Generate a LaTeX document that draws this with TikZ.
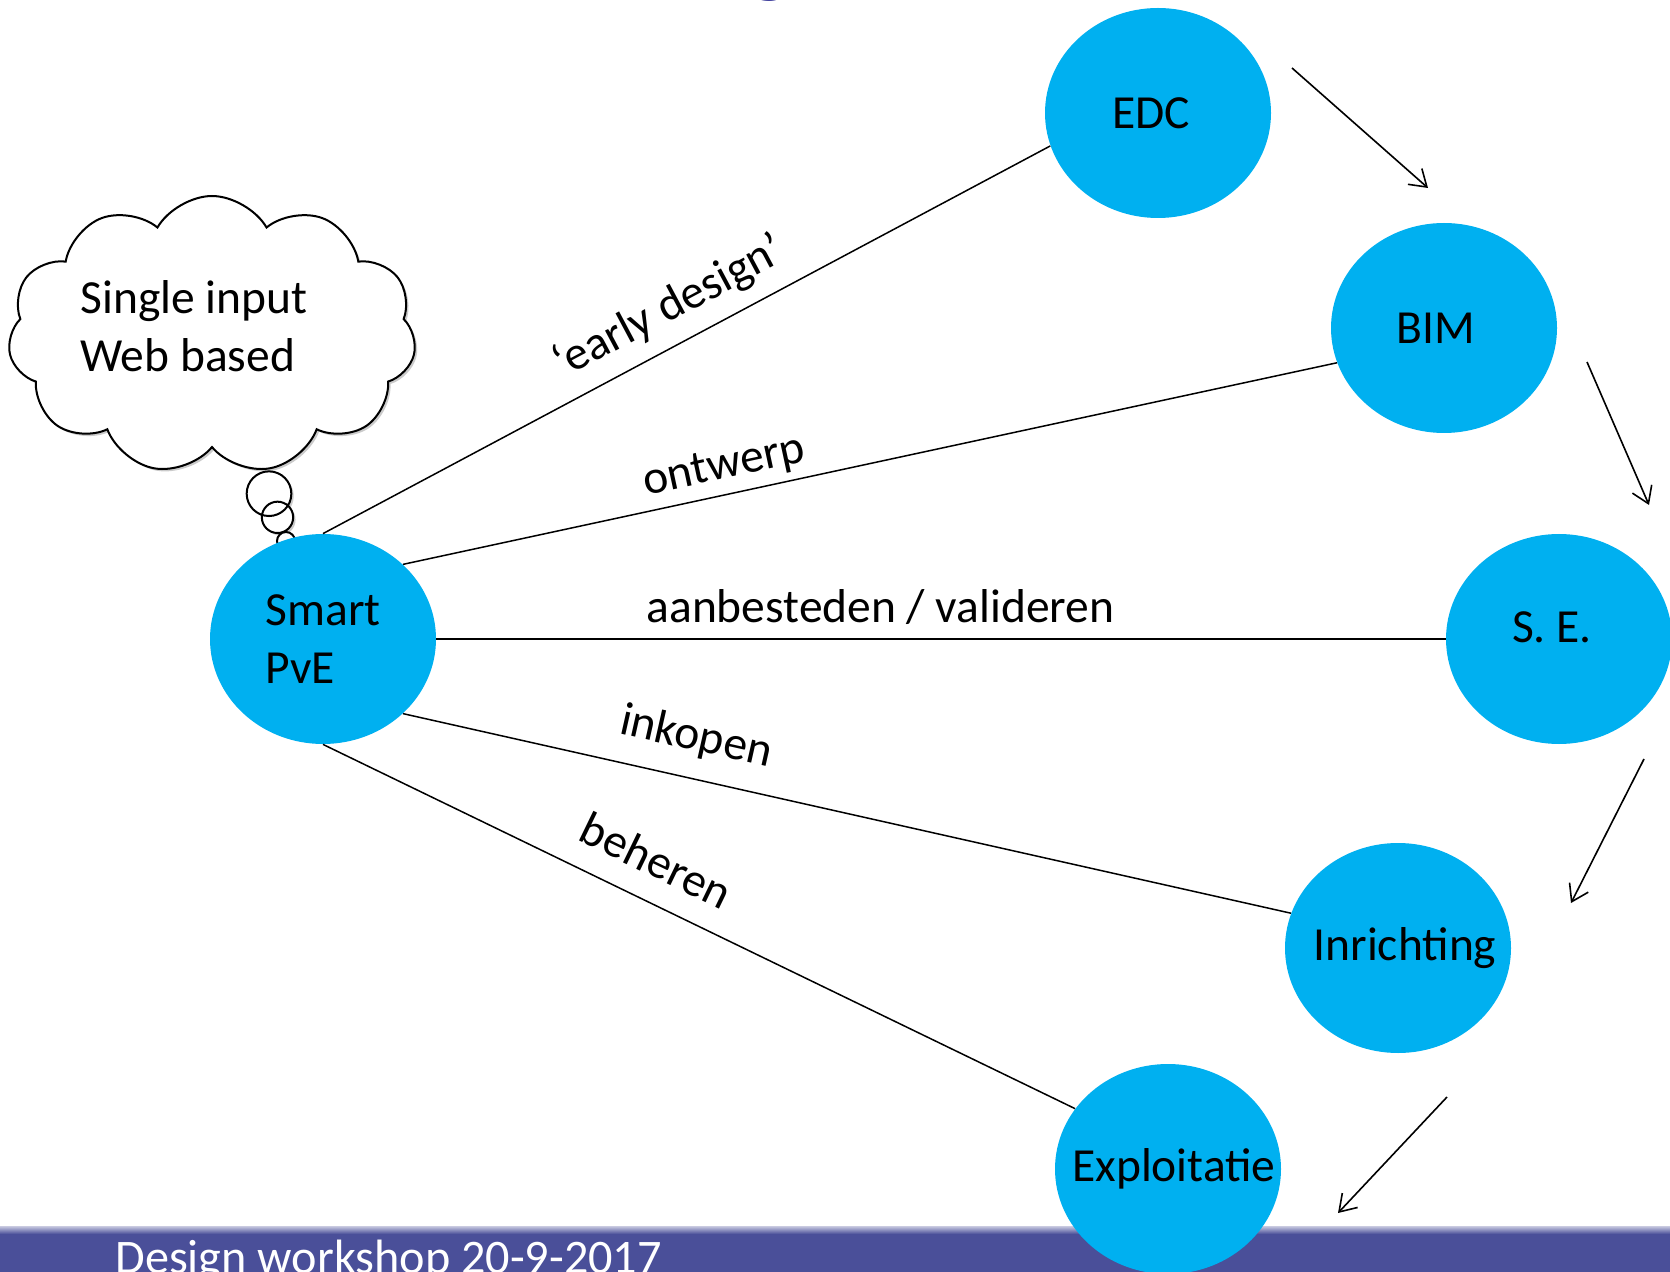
\documentclass[tikz,border=0pt]{standalone}
\usepackage{fontspec}
\setmainfont{Carlito}
\usetikzlibrary{shapes.geometric,shapes.callouts,shadows,arrows.meta}
\definecolor{pveblue}{RGB}{0,176,240}
\definecolor{barblue}{RGB}{74,79,153}
\definecolor{titleblue}{RGB}{57,57,153}
\tikzset{
  phase/.style={ellipse, fill=pveblue, minimum width=113pt, minimum height=105pt, inner sep=0pt},
  link/.style={line width=0.75pt},
  linklabel/.style={sloped, above=#1},
  linklabel/.default=0pt,
  flow/.style={line width=0.8pt, -{Straight Barb[length=8pt,width=10.5pt]}},
}
\begin{document}
\begin{tikzpicture}[x=0.5pt, y=-0.5pt, font=\fontsize{23.75}{29}\selectfont]
  \useasboundingbox (0,0) rectangle (1670,1272);
  \fill[white] (0,0) rectangle (1670,1272);
  % title, almost all of it above the page
  \node[titleblue, font=\fontsize{43.5}{52}\selectfont, anchor=base] (title) at (770,-13) {g};
  % footer bar
  \fill[barblue] (0,1229) rectangle (1670,1272);
  \shade[top color=barblue!30, bottom color=barblue] (0,1226) rectangle (1670,1234);
  \node[white, anchor=base west, inner sep=0pt, font=\fontsize{24.1}{29}\selectfont] (footer) at (115,1273) {Design workshop 20-9-2017};
  % thought cloud
  \coordinate (think) at (286,541);
  \node[cloud callout, draw, fill=white, line width=1pt, cloud puffs=11, cloud puff arc=120,
        cloud ignores aspect, minimum width=204pt, minimum height=139pt,
        callout absolute pointer={(think)}, callout pointer segments=3,
        callout pointer start size=29pt and 29pt, callout pointer end size=9pt and 9pt,
        drop shadow={shadow xshift=1.2pt, shadow yshift=-1.2pt, fill=black!40, opacity=.5}] (cloud) at (212,335) {};
  \node[anchor=west, align=left, inner sep=0pt] (thought) at (80,326) {Single input\\Web based};
  % phases
  \node[phase, label={[name=l-smart, align=left]center:Smart\\PvE}] (smart) at (323,639) {};
  \node[phase, label={[name=l-edc, xshift=-3.5pt]center:EDC}] (edc) at (1158,113) {};
  \node[phase, label={[name=l-bim, xshift=-4pt]center:BIM}] (bim) at (1444,328) {};
  \node[phase, label={[name=l-se, xshift=-3.5pt, yshift=6pt]center:S. E.}] (se) at (1559,639) {};
  \node[phase, label={[name=l-inr, xshift=3.5pt]center:Inrichting}] (inr) at (1398,948) {};
  \node[phase, label={[name=l-expl, xshift=3pt]center:Exploitatie}] (expl) at (1168,1169) {};
  % links from the smart PvE
  \draw[link] (smart.90) -- (edc.197) node[linklabel=4pt, pos=.5] {`early design'};
  \draw[link] (smart.43) -- (bim.198) node[linklabel=.5pt, pos=.35] {ontwerp};
  \draw[link] (smart.0) -- (se.180) node[linklabel=3.5pt, pos=.44] {aanbesteden / valideren};
  \draw[link] (smart.317) -- (inr.162) node[linklabel=6.5pt, pos=.32] {inkopen};
  \draw[link] (smart.270) -- (expl.147) node[linklabel=8.5pt, pos=.42] {beheren};
  % cycle arrows
  \foreach \i/\sx/\sy/\ex/\ey in {1/1292/68/1428/188, 2/1587/362/1649/505,
                                  3/1644/759/1571/903, 4/1447/1097/1338/1213} {
    \coordinate (f-\i-s) at (\sx,\sy);
    \coordinate (f-\i-e) at (\ex,\ey);
    \draw[flow] (f-\i-s) -- (f-\i-e);
  }
\end{tikzpicture}
\end{document}
